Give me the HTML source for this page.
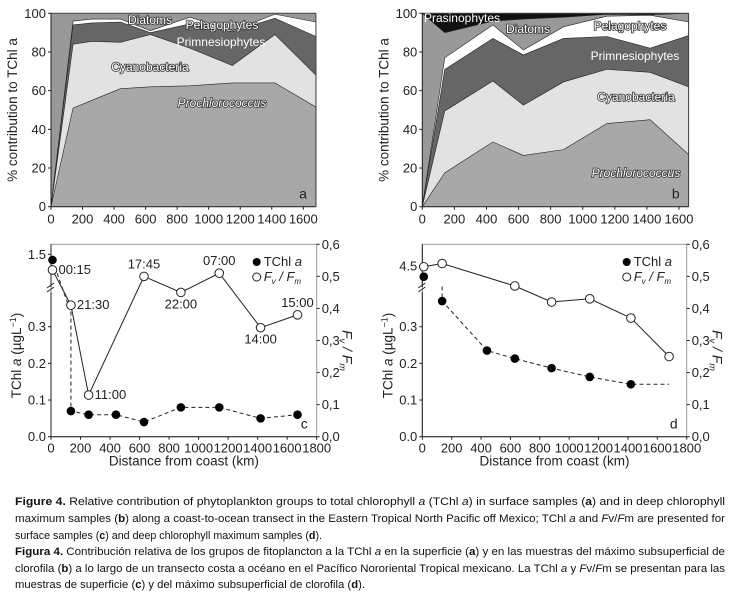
<!DOCTYPE html>
<html><head><meta charset="utf-8"><style>
body{margin:0;background:#fff;}
svg{display:block;font-family:"Liberation Sans",sans-serif;}
</style></head><body>
<svg id="fig" width="739" height="598" viewBox="0 0 739 598" xmlns="http://www.w3.org/2000/svg">
<g font-size="11" fill="#111">
<text x="15" y="505" textLength="710" lengthAdjust="spacingAndGlyphs"><tspan font-weight="bold">Figure 4.</tspan> Relative contribution of phytoplankton groups to total chlorophyll <tspan font-style="italic">a</tspan> (TChl <tspan font-style="italic">a</tspan>) in surface samples (<tspan font-weight="bold">a</tspan>) and in deep chlorophyll</text>
<text x="15" y="522" textLength="710" lengthAdjust="spacingAndGlyphs">maximum samples (<tspan font-weight="bold">b</tspan>) along a coast-to-ocean transect in the Eastern Tropical North Pacific off Mexico; TChl <tspan font-style="italic">a</tspan> and <tspan font-style="italic">F</tspan>v/<tspan font-style="italic">F</tspan>m are presented for</text>
<text x="15" y="539" textLength="307" lengthAdjust="spacingAndGlyphs">surface samples (<tspan font-weight="bold">c</tspan>) and deep chlorophyll maximum samples (<tspan font-weight="bold">d</tspan>).</text>
<text x="15" y="555" textLength="710" lengthAdjust="spacingAndGlyphs"><tspan font-weight="bold">Figura 4.</tspan> Contribución relativa de los grupos de fitoplancton a la TChl <tspan font-style="italic">a</tspan> en la superficie (<tspan font-weight="bold">a</tspan>) y en las muestras del máximo subsuperficial de</text>
<text x="15" y="572" textLength="710" lengthAdjust="spacingAndGlyphs">clorofila (<tspan font-weight="bold">b</tspan>) a lo largo de un transecto costa a océano en el Pacífico Nororiental Tropical mexicano. La TChl <tspan font-style="italic">a</tspan> y <tspan font-style="italic">F</tspan>v/<tspan font-style="italic">F</tspan>m se presentan para las</text>
<text x="15" y="588" textLength="350" lengthAdjust="spacingAndGlyphs">muestras de superficie (<tspan font-weight="bold">c</tspan>) y del máximo subsuperficial de clorofila (<tspan font-weight="bold">d</tspan>).</text>
</g>
</svg>
<script>
// Panel a data (cumulative % tops)
const aKm = [0,140,260,440,630,880,1150,1420,1680];
const aProchloro = [0,51,55,61,62,62.5,64,64,51.5];
const aCyano = [0,84,85.5,85,89,82,73,89,68];
const aPrimnes = [0,94,95,95.5,90,94.5,90.5,97.5,88];
const aPelago = [0,96,97,97,91,98,91,99.5,95.5];
// Panel b data
const bKm = [0,140,440,630,880,1150,1420,1660];
const bProchloro = [0,17.5,33.5,26.5,29.5,43,45,27];
const bCyano = [0,49.5,65,52.5,64.5,71,69.5,62];
const bPrimnes = [0,71,87,78.5,87,88,82,88.5];
const bPelago = [0,77,94,81,93,98.5,99,95.5];
const bDiatoms = [100,90,96,97,98,99.5,99.3,100];
const stackTicksX = [0,200,400,600,800,1000,1200,1400,1600];
const stackTicksY = [0,20,40,60,80,100];
// Panel c data
const cKm = [10,135,255,440,630,880,1140,1420,1670];
const cTchl = [1.42,0.07,0.06,0.06,0.04,0.08,0.08,0.05,0.06];
const cFvKm = [10,135,255,630,880,1140,1420,1670];
const cFv = [0.52,0.41,0.13,0.50,0.45,0.51,0.34,0.38];
const cFvLabels = ["00:15","21:30","11:00","17:45","22:00","07:00","14:00","15:00"];
// Panel d data
const dKm = [10,135,440,630,880,1140,1420];
const dTchl = [4.4,0.37,0.235,0.213,0.187,0.163,0.143];
const dFvKm = [10,135,630,880,1140,1420,1680];
const dFv = [0.53,0.54,0.47,0.42,0.43,0.37,0.25];
const lineTicksX = [0,200,400,600,800,1000,1200,1400,1600,1800];
const leftTicks = [0,0.1,0.2,0.3];
const leftTickLabels = ["0.0","0.1","0.2","0.3"];
const rightTicks = [0,0.1,0.2,0.3,0.4,0.5,0.6];
const rightTickLabels = ["0,0","0,1","0,2","0,3","0,4","0,5","0,6"];

const NS="http://www.w3.org/2000/svg";
const svg=document.getElementById('fig');
function mk(tag,attrs,parent,txt){const e=document.createElementNS(NS,tag);for(const k in attrs)e.setAttribute(k,attrs[k]);if(txt!==undefined)e.textContent=txt;(parent||svg).appendChild(e);return e;}
const FS=13;

function stackPanel(name,x0,x1,kmMax,y0,y100,km,layers,labels,letter,extra){
  const g=mk('g',{},svg);
  
  
  const sx=v=>x0+(v/kmMax)*(x1-x0);
  const Y=v=>y100+(100-v)*(y0-y100)/100;
  const xe=sx(km[km.length-1]);
  const bg=mk('rect',{x:x0,y:y100,width:xe-x0,height:y0-y100,fill:'#999'},g);
  
  
  if(extra)extra(g,sx,Y);
  for(let i=layers.length-1;i>=0;i--){
    const L=layers[i];
    let d='M'+sx(km[0])+','+Y(0);
    km.forEach((k,j)=>{d+=' L'+sx(k)+','+Y(L.v[j]);});
    d+=' L'+xe+','+Y(0)+' Z';
    const p=mk('path',{d:d,fill:L.c,stroke:'#222','stroke-width':0.6},g);
    
    
  }
  mk('line',{x1:x0,y1:y100,x2:x0,y2:y0,stroke:'#222','stroke-width':1},g);
  mk('line',{x1:x0,y1:y0,x2:xe,y2:y0,stroke:'#222','stroke-width':1},g);
  mk('line',{x1:x0,y1:y100,x2:xe,y2:y100,stroke:'#444','stroke-width':1},g);
  mk('line',{x1:xe,y1:y100,x2:xe,y2:y0,stroke:'#444','stroke-width':1},g);
  stackTicksX.forEach(t=>{const x=sx(t);mk('line',{x1:x,y1:y0,x2:x,y2:y0+3,stroke:'#222'},g);const tx=mk('text',{x:x,y:y0+17,'font-size':FS,'text-anchor':'middle',fill:'#222'},g,t);});
  stackTicksY.forEach(t=>{const y=Y(t);mk('line',{x1:x0-3,y1:y,x2:x0,y2:y,stroke:'#222'},g);const tx=mk('text',{x:x0-5,y:y+4.5,'font-size':FS,'text-anchor':'end',fill:'#222'},g,t);});
  const yt=mk('text',{x:0,y:0,'font-size':13.5,'text-anchor':'middle',fill:'#222',transform:`translate(${x0-34},${(y0+y100)/2}) rotate(-90)`},g,'% contribution to TChl a');
  
  labels.forEach(l=>{const t=mk('text',{x:l.x,y:l.y,'font-size':12,'text-anchor':'middle',fill:'#fff',stroke:l.s?'#333':'none','stroke-width':l.s?1.6:0,'paint-order':'stroke','font-style':l.i?'italic':'normal'},g,l.t);});
  const lt=mk('text',{x:xe-9,y:y0-8,'font-size':14,'text-anchor':'end',fill:'#222'},g,letter);
  
}

stackPanel('panel-a-stacked-area',51,303.3,1600,206.7,13.3,aKm,[
 {n:'prochlorococcus',v:aProchloro,c:'#a8a8a8'},
 {n:'cyanobacteria',v:aCyano,c:'#e2e2e2'},
 {n:'primnesiophytes',v:aPrimnes,c:'#666'},
 {n:'pelagophytes',v:aPelago,c:'#fff'}],
 [{t:'Diatoms',x:150,y:24,s:1},{t:'Pelagophytes',x:222,y:29,s:1},{t:'Primnesiophytes',x:221,y:46},{t:'Cyanobacteria',x:150,y:71,s:1},{t:'Prochlorococcus',x:222,y:107,s:1,i:true}],'a');

stackPanel('panel-b-stacked-area',422.3,679,1600,206.7,13.3,bKm,[
 {n:'prochlorococcus',v:bProchloro,c:'#a8a8a8'},
 {n:'cyanobacteria',v:bCyano,c:'#e2e2e2'},
 {n:'primnesiophytes',v:bPrimnes,c:'#666'},
 {n:'pelagophytes',v:bPelago,c:'#fff'},
 {n:'diatoms',v:bDiatoms,c:'#999'}],
 [{t:'Prasinophytes',x:462,y:22},{t:'Diatoms',x:528,y:33,s:1},{t:'Pelagophytes',x:630,y:30,s:1},{t:'Primnesiophytes',x:635,y:60},{t:'Cyanobacteria',x:636,y:101,s:1},{t:'Prochlorococcus',x:636,y:177,s:1,i:true}],'b',
 (g,sx,Y)=>{const r=mk('rect',{x:sx(0),y:Y(100),width:sx(bKm[bKm.length-1])-sx(0),height:Y(88)-Y(100),fill:'#111'},g);});

function linePanel(name,x0,kmScale,xR,yBot,fvKm,fv,tKm,tchl,upperTop,upperVal,upperScale,upperLabel,letter,fvLabels,dashTail,dashStart){
  const g=mk('g',{},svg);
  
  
  const sx=v=>x0+v*kmScale;
  const yL=v=>yBot-v*(110/0.3);
  const yU=v=>upperTop+(upperVal-v)*upperScale;
  const yT=v=>v>0.5?yU(v):yL(v);
  const yR=v=>yBot-v*(192.4/0.6);
  const top=244.3;
  mk('rect',{x:x0,y:top,width:xR-x0,height:yBot-top,fill:'none',stroke:'#999','stroke-width':1},g);
  mk('line',{x1:x0,y1:yBot,x2:x0,y2:292,stroke:'#222'},g);
  mk('line',{x1:x0,y1:287,x2:x0,y2:top,stroke:'#222'},g);
  mk('line',{x1:x0-4,y1:292,x2:x0+3,y2:287,stroke:'#222'},g);
  mk('line',{x1:x0-4,y1:288,x2:x0+3,y2:283,stroke:'#222'},g);
  mk('line',{x1:x0,y1:yBot,x2:xR,y2:yBot,stroke:'#222'},g);
  lineTicksX.forEach(t=>{const x=sx(t);mk('line',{x1:x,y1:yBot,x2:x,y2:yBot+3,stroke:'#222'},g);const tx=mk('text',{x:x,y:yBot+16,'font-size':FS,'text-anchor':'middle',fill:'#222'},g,t);});
  leftTicks.forEach((t,i)=>{const y=yL(t);mk('line',{x1:x0-3,y1:y,x2:x0,y2:y,stroke:'#222'},g);const tx=mk('text',{x:x0-5,y:y+4.5,'font-size':FS,'text-anchor':'end',fill:'#222'},g,leftTickLabels[i]);});
  mk('line',{x1:x0-3,y1:upperTop,x2:x0,y2:upperTop,stroke:'#222'},g);
  const ul=mk('text',{x:x0-5,y:upperTop+4.5,'font-size':FS,'text-anchor':'end',fill:'#222'},g,upperLabel);
  rightTicks.forEach((t,i)=>{const y=yR(t);mk('line',{x1:xR,y1:y,x2:xR+3,y2:y,stroke:'#222'},g);const tx=mk('text',{x:xR+5,y:y+4.5,'font-size':FS,fill:'#222'},g,rightTickLabels[i]);});
  const xt=mk('text',{x:(x0+xR)/2,y:yBot+29,'font-size':13.5,'text-anchor':'middle',fill:'#222'},g,'Distance from coast (km)');
  const ytl=mk('text',{transform:`translate(${x0-30},${(yBot+top)/2+15}) rotate(-90)`,'font-size':13.5,'text-anchor':'middle',fill:'#222'},g);
  ytl.innerHTML='TChl <tspan font-style="italic">a</tspan> (µgL<tspan dy="-5" font-size="9">−1</tspan><tspan dy="5">)</tspan>';
  const ytr=mk('text',{transform:`translate(${xR+26},${(yBot+top)/2+10}) rotate(90)`,'font-size':14,'text-anchor':'middle',fill:'#222','font-style':'italic'},g);
  ytr.innerHTML='F<tspan font-size="9" dy="3">v</tspan><tspan dy="-3"> / F</tspan><tspan font-size="9" dy="3">m</tspan>';
  let d='M'+sx(tKm[0])+','+yT(tchl[0]);
  d+=dashStart(sx,yL);
  for(let i=1;i<tKm.length;i++)d+=' L'+sx(tKm[i])+','+yT(tchl[i]);
  if(dashTail)d+=' L'+sx(dashTail)+','+yT(tchl[tchl.length-1]);
  const tl=mk('path',{d:d,fill:'none',stroke:'#222','stroke-width':1,'stroke-dasharray':'4,3'},g);
  let d2='';fvKm.forEach((k,i)=>{d2+=(i?' L':'M')+sx(k)+','+yR(fv[i]);});
  const fl=mk('path',{d:d2,fill:'none',stroke:'#222','stroke-width':1},g);
  tKm.forEach((k,i)=>{const c=mk('circle',{cx:sx(k),cy:yT(tchl[i]),r:4.3,fill:'#000'},g);});
  fvKm.forEach((k,i)=>{const c=mk('circle',{cx:sx(k),cy:yR(fv[i]),r:4.3,fill:'#fff',stroke:'#222','stroke-width':1},g);
    if(fvLabels){const above=(i===3||i===5||i===7);const below=(i===4||i===6);const lx=above||below?sx(k):sx(k)+6;const ly=above?yR(fv[i])-8:below?yR(fv[i])+16:yR(fv[i])+4;
      const t=mk('text',{x:lx,y:ly,'font-size':FS,'text-anchor':above||below?'middle':'start',fill:'#222'},g,fvLabels[i]);}});
  const lx=xR-60;
  const c1=mk('circle',{cx:lx,cy:262,r:4,fill:'#000'},g);
  const l1=mk('text',{x:lx+7,y:266,'font-size':FS,fill:'#222'},g);l1.innerHTML='TChl <tspan font-style="italic">a</tspan>';
  const c2=mk('circle',{cx:lx,cy:277,r:4,fill:'#fff',stroke:'#222'},g);
  const l2=mk('text',{x:lx+7,y:281,'font-size':FS,fill:'#222','font-style':'italic'},g);l2.innerHTML='F<tspan font-size="8" dy="3">v</tspan><tspan dy="-3"> / F</tspan><tspan font-size="8" dy="3">m</tspan>';
  const pl=mk('text',{x:xR-9,y:yBot-8,'font-size':14,'text-anchor':'end',fill:'#222'},g,letter);
}
linePanel('panel-c-surface',51,0.1476,316.7,436.7,cFvKm,cFv,cKm,cTchl,254.3,1.5,71,'1.5','c',cFvLabels,null,(sx,yL)=>' L'+sx(125)+','+yL(0.35)+' L'+sx(135)+','+yL(0.35));
linePanel('panel-d-dcm',422.3,0.1469,686.7,436.7,dFvKm,dFv,dKm,dTchl,266,4.5,107,'4.5','d',null,1680,(sx,yL)=>' M'+sx(135)+','+yL(0.41));
</script>
</body></html>
